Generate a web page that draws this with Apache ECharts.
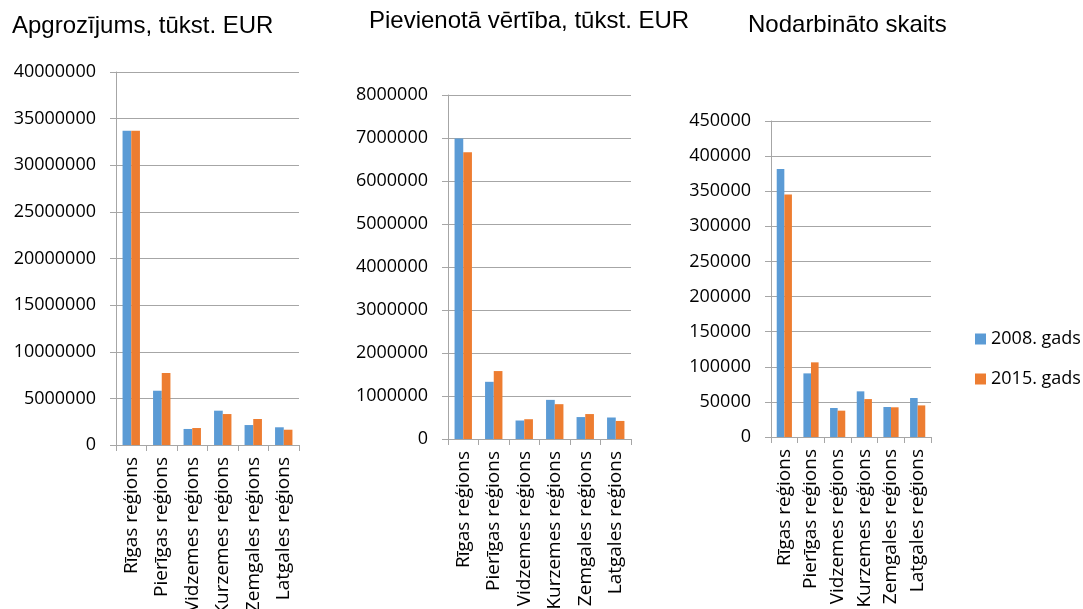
<!DOCTYPE html>
<html><head><meta charset="utf-8">
<script src="https://cdn.jsdelivr.net/npm/echarts@6/dist/echarts.min.js"></script>
<style>html,body{margin:0;padding:0;background:#fff}#c{width:1083px;height:609px}</style>
</head><body><div id="c"></div>
<script>
const categories = ['Rīgas reģions','Pierīgas reģions','Vidzemes reģions','Kurzemes reģions','Zemgales reģions','Latgales reģions'];
const seriesNames = ['2008. gads','2015. gads'];
const titles = ['Apgrozījums, tūkst. EUR','Pievienotā vērtība, tūkst. EUR','Nodarbināto skaits'];
const turnover2008 = [33700000, 5820000, 1720000, 3680000, 2140000, 1900000];
const turnover2015 = [33700000, 7720000, 1820000, 3320000, 2790000, 1640000];
const added2008 = [6990000, 1330000, 430000, 910000, 510000, 500000];
const added2015 = [6670000, 1580000, 460000, 810000, 580000, 420000];
const employed2008 = [381700, 90600, 41300, 65000, 42700, 55500];
const employed2015 = [345300, 106300, 37500, 54000, 42300, 45000];
const yMax = [40000000, 8000000, 450000];
const yStep = [5000000, 1000000, 50000];

const blue = '#5b9bd5', orange = '#ed7d31', gray = '#a6a6a6';
const font = 'Open Sans';
const grids = [
  {left:116, top:72, width:183, height:373, containLabel:false, outerBoundsMode:'none'},
  {left:448, top:95, width:183, height:344, containLabel:false, outerBoundsMode:'none'},
  {left:771, top:121, width:160, height:316, containLabel:false, outerBoundsMode:'none'}
];
const data = [[turnover2008, turnover2015],[added2008, added2015],[employed2008, employed2015]];
const titleStyle = {fontFamily:'Liberation Sans', fontSize:24, fontWeight:'normal', color:'#000'};

const option = {
  animation:false,
  backgroundColor:'#fff',
  title:[
    {text:titles[0], left:7, top:9, textStyle:titleStyle},
    {text:titles[1], left:364, top:4, textStyle:titleStyle},
    {text:titles[2], left:743, top:8, textStyle:titleStyle}
  ],
  legend:{orient:'vertical', left:970, top:325, itemWidth:11, itemHeight:11, itemGap:22,
    icon:'rect', textStyle:{fontFamily:font, fontSize:18, color:'#000'}, data:seriesNames},
  grid:grids,
  xAxis:grids.map((g,i)=>({type:'category', gridIndex:i, data:categories,
    axisLine:{lineStyle:{color:gray}}, axisTick:{show:true, length:6, lineStyle:{color:gray}},
    axisLabel:{rotate:90, interval:0, margin:12, fontFamily:font, fontSize:19, color:'#000'}})),
  yAxis:grids.map((g,i)=>({type:'value', gridIndex:i, min:0, max:yMax[i], interval:yStep[i],
    axisLine:{show:true, lineStyle:{color:gray}}, axisTick:{show:true, length:6, lineStyle:{color:gray}},
    splitLine:{lineStyle:{color:gray}},
    axisLabel:{margin:20, fontFamily:font, fontSize:18, color:'#000', formatter:v=>String(v)}})),
  series:[]
};
data.forEach((pair,i)=>{
  pair.forEach((vals,j)=>{
    option.series.push({name:seriesNames[j], type:'bar', xAxisIndex:i, yAxisIndex:i, data:vals,
      itemStyle:{color:j?orange:blue}, barGap:'0%', barCategoryGap:'43%'});
  });
});
echarts.init(document.getElementById('c'),null,{renderer:'canvas'}).setOption(option);
</script></body></html>
